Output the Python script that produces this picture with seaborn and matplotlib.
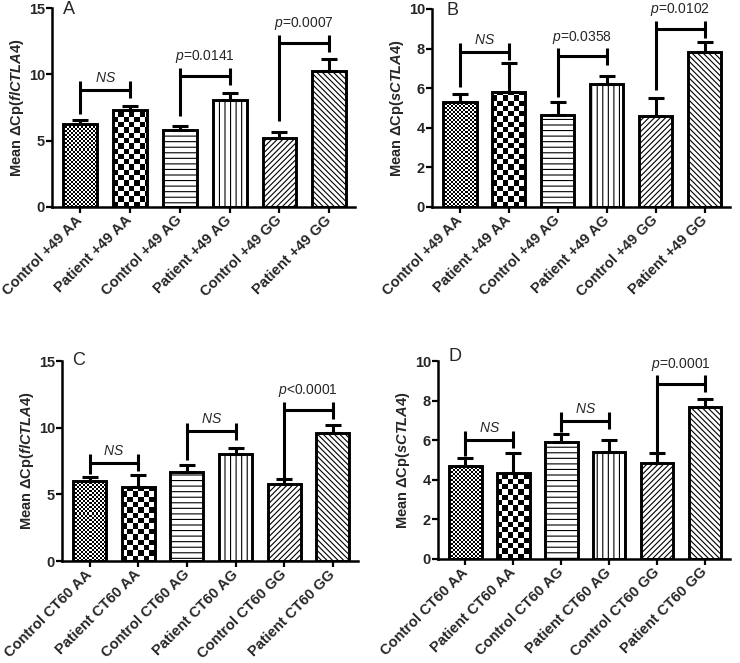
import numpy as np
import pandas as pd
import seaborn as sns
from matplotlib import pyplot as plt

sns.set_style("ticks")
plt.rcParams['font.family'] = ['Liberation Sans', 'DejaVu Sans']
plt.rcParams['mathtext.fontset'] = 'custom'
plt.rcParams['mathtext.it'] = 'Liberation Sans:italic:bold'
plt.rcParams['mathtext.sf'] = 'Liberation Sans:italic'
plt.rcParams['mathtext.rm'] = 'Liberation Sans:bold'
plt.rcParams['hatch.linewidth'] = 0.8

# data
labels_49 = ["Control +49 AA", "Patient +49 AA", "Control +49 AG",
             "Patient +49 AG", "Control +49 GG", "Patient +49 GG"]
labels_ct60 = ["Control CT60 AA", "Patient CT60 AA", "Control CT60 AG",
               "Patient CT60 AG", "Control CT60 GG", "Patient CT60 GG"]

mean_a = [6.28, 7.29, 5.83, 8.09, 5.23, 10.25]
sem_a = [0.30, 0.30, 0.30, 0.50, 0.42, 0.93]
mean_b = [5.28, 5.83, 4.66, 6.22, 4.61, 7.85]
sem_b = [0.42, 1.43, 0.65, 0.40, 0.89, 0.50]
mean_c = [6.01, 5.56, 6.68, 8.05, 5.81, 9.63]
sem_c = [0.30, 0.87, 0.50, 0.45, 0.32, 0.59]
mean_d = [4.69, 4.35, 5.92, 5.41, 4.86, 7.68]
sem_d = [0.39, 0.98, 0.38, 0.59, 0.50, 0.42]

# comparisons: left bar, right bar, bracket level, left leg bottom, label
cmp_a = [(0, 1, 8.84, 7.03, "NS"), (2, 3, 9.85, 6.83, "p=0.0141"), (4, 5, 12.36, 6.48, "p=0.0007")]
cmp_b = [(0, 1, 7.85, 6.08, "NS"), (2, 3, 7.60, 5.55, "p=0.0358"), (4, 5, 8.97, 5.92, "p=0.0102")]
cmp_c = [(0, 1, 7.36, 6.56, "NS"), (2, 3, 9.73, 7.56, "NS"), (4, 5, 11.30, 6.18, "p<0.0001")]
cmp_d = [(0, 1, 6.03, 5.20, "NS"), (2, 3, 6.98, 6.42, "NS"), (4, 5, 8.86, 5.19, "p=0.0001")]

HATCHES = ["checker_fine", "checker_coarse", "---", "|||", "//////", "\\\\\\\\\\\\"]

fig = plt.figure(figsize=(7.4, 6.63), dpi=100)


def checker(ax, patch, cell_px):
    # checkerboard fill clipped to the bar
    p0 = ax.transData.transform((0, 0))
    p1 = ax.transData.transform((1, 1))
    ppx, ppy = p1[0] - p0[0], p1[1] - p0[1]
    x0, w, h = patch.get_x(), patch.get_width(), patch.get_height()
    nx = int(np.ceil(w * ppx / cell_px))
    ny = int(np.ceil(h * ppy / cell_px))
    img = np.add.outer(np.arange(ny), np.arange(nx)) % 2
    ext = (x0, x0 + nx * cell_px / ppx, 0, ny * cell_px / ppy)
    im = ax.imshow(img, cmap='gray', extent=ext, origin='lower', interpolation='nearest',
                   aspect='auto', zorder=0.9)
    im.set_clip_path(patch)


def panel(rect, labels, means, sems, ymax, ystep, ylabel, letter, letter_xy, comps):
    ax = fig.add_axes(rect)
    df = pd.DataFrame({"group": labels, "mean": means})
    sns.barplot(data=df, x="group", y="mean", color="white", edgecolor="black",
                linewidth=2.1, width=0.68, errorbar=None, saturation=1, ax=ax)
    ax.set_xlim(-0.57, 5.52)
    ax.set_ylim(0, ymax)
    ax.set_yticks(np.arange(0, ymax + 0.1, ystep))

    for patch, h in zip(ax.patches, HATCHES):
        if h == "checker_fine":
            patch.set_facecolor("none")
            checker(ax, patch, 2.0)
        elif h == "checker_coarse":
            patch.set_facecolor("none")
            checker(ax, patch, 5.3)
        else:
            patch.set_hatch(h)
    ax.set_xlim(-0.57, 5.52)
    ax.set_ylim(0, ymax)

    ax.errorbar(np.arange(len(means)), means, yerr=[np.zeros(len(sems)), sems],
                fmt="none", ecolor="black", elinewidth=2.2, capsize=6, capthick=2.2, zorder=3)

    d = ymax * 0.043
    for i, j, y, ylow, txt in comps:
        kw = dict(color="black", lw=2.2, solid_capstyle="butt", clip_on=False, zorder=4)
        ax.plot([i, i], [y + d, ylow], **kw)
        ax.plot([i, j], [y, y], **kw)
        ax.plot([j, j], [y + d, y - d], **kw)
        if txt == "NS":
            ax.text((i + j) / 2, y + ymax * 0.025, r"$\mathsf{NS}$", ha="center", va="bottom", fontsize=10)
        else:
            ax.text((i + j) / 2, y + ymax * 0.055, r"$\mathsf{p}$" + txt[1:], ha="center",
                    va="bottom", fontsize=10)

    ax.set_xlabel("")
    ax.set_ylabel(ylabel, fontsize=10.5, fontweight="bold", labelpad=2)
    ax.text(letter_xy[0], letter_xy[1], letter, transform=ax.transAxes, fontsize=13,
            va="baseline", ha="left")

    sns.despine(ax=ax)
    for s in ("left", "bottom"):
        ax.spines[s].set_linewidth(1.8)
        ax.spines[s].set_color("black")
    ax.tick_params(axis="both", direction="out", length=4, width=1.6, color="black")
    ax.tick_params(axis="y", labelsize=10.5, pad=1)
    ax.tick_params(axis="x", labelsize=10.5, pad=4)
    for t in ax.get_yticklabels():
        t.set_fontweight("bold")
    for t in ax.get_xticklabels():
        t.set_fontweight("bold")
        t.set_rotation(45)
        t.set_ha("right")
        t.set_va("center")
        t.set_rotation_mode("anchor")
    return ax


panel([0.0703, 0.6878, 0.4095, 0.300], labels_49, mean_a, sem_a, 15, 5,
      r"Mean ΔCp($\mathit{flCTLA4}$)", "A", (0.036, 0.97), cmp_a)
panel([0.5838, 0.6878, 0.4027, 0.2987], labels_49, mean_b, sem_b, 10, 2,
      r"Mean ΔCp($\mathit{sCTLA4}$)", "B", (0.047, 0.97), cmp_b)
panel([0.0838, 0.1538, 0.400, 0.3017], labels_ct60, mean_c, sem_c, 15, 5,
      r"Mean ΔCp($\mathit{flCTLA4}$)", "C", (0.033, 0.98), cmp_c)
panel([0.5919, 0.1569, 0.3946, 0.2986], labels_ct60, mean_d, sem_d, 10, 2,
      r"Mean ΔCp($\mathit{sCTLA4}$)", "D", (0.037, 1.0), cmp_d)

fig.savefig("out.png", dpi=100)
